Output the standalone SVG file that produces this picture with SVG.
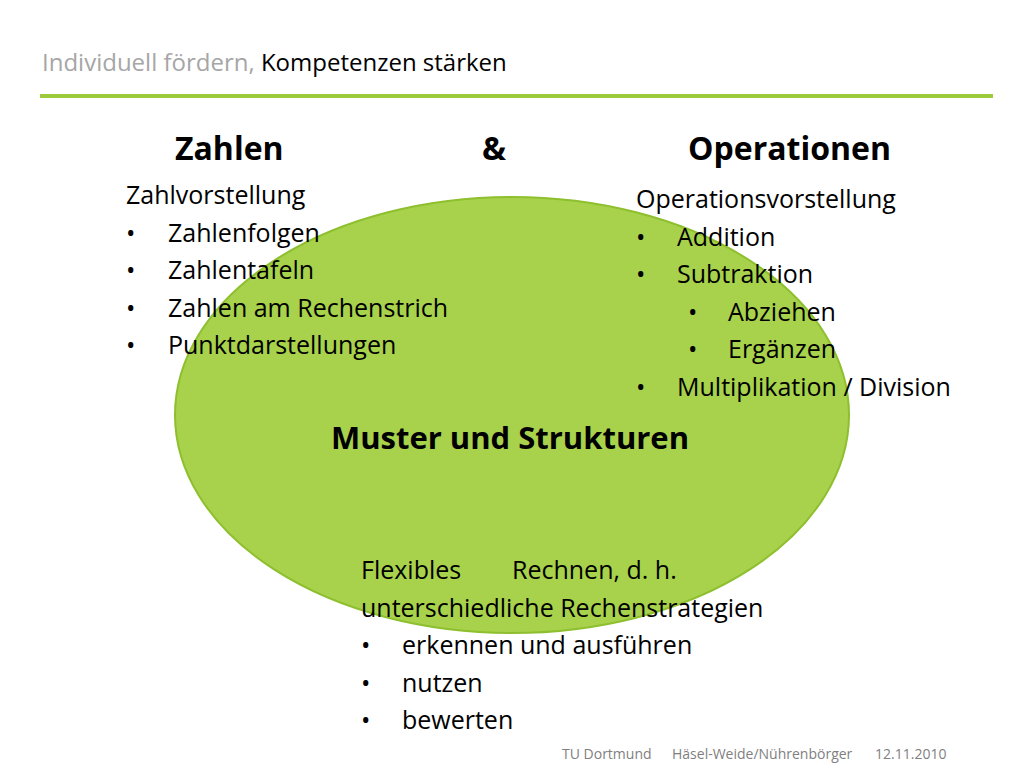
<svg xmlns="http://www.w3.org/2000/svg" width="1024" height="768" viewBox="0 0 1024 768">
<style>
text{font-family:"Open Sans","Liberation Sans",sans-serif;fill:#000}
.b{font-size:25px}
.h{font-size:32px;font-weight:bold}
.f{font-size:14px;fill:#7f7f7f}
</style>
<rect width="1024" height="768" fill="#fff"/>
<text x="42" y="71" font-size="24"><tspan style="fill:#a6a6a6">Individuell fördern, </tspan><tspan>Kompetenzen stärken</tspan></text>
<line x1="40" y1="96" x2="993" y2="96" stroke="#9ccb3b" stroke-width="4"/>
<g id="ellipse"><ellipse cx="512" cy="415" rx="337" ry="218" fill="#a8d24b" stroke="#8dbf2e" stroke-width="2"/>
<text x="510" y="449" text-anchor="middle" font-size="31" font-weight="bold">Muster und Strukturen</text></g>
<g id="heads">
<text class="h" x="175" y="160">Zahlen</text>
<text class="h" x="482" y="160">&amp;</text>
<text class="h" x="688" y="160">Operationen</text>
</g>
<g id="zahlen">
<text class="b" x="126" y="204">Zahlvorstellung</text>
<text class="b" x="126" y="242">•</text><text class="b" x="168" y="242">Zahlenfolgen</text>
<text class="b" x="126" y="279">•</text><text class="b" x="168" y="279">Zahlentafeln</text>
<text class="b" x="126" y="317">•</text><text class="b" x="168" y="317">Zahlen am Rechenstrich</text>
<text class="b" x="126" y="354">•</text><text class="b" x="168" y="354">Punktdarstellungen</text>
</g>
<g id="operationen">
<text class="b" x="636" y="208">Operationsvorstellung</text>
<text class="b" x="636" y="246">•</text><text class="b" x="677" y="246">Addition</text>
<text class="b" x="636" y="283">•</text><text class="b" x="677" y="283">Subtraktion</text>
<text class="b" x="688" y="321">•</text><text class="b" x="728" y="321">Abziehen</text>
<text class="b" x="688" y="358">•</text><text class="b" x="728" y="358">Ergänzen</text>
<text class="b" x="636" y="396">•</text><text class="b" x="677" y="396">Multiplikation / Division</text>
</g>
<g id="flexibel">
<text class="b" x="361" y="579">Flexibles</text><text class="b" x="512" y="579">Rechnen, d. h.</text>
<text class="b" x="361" y="617">unterschiedliche Rechenstrategien</text>
<text class="b" x="361" y="654">•</text><text class="b" x="402" y="654">erkennen  und ausführen</text>
<text class="b" x="361" y="692">•</text><text class="b" x="402" y="692">nutzen</text>
<text class="b" x="361" y="729">•</text><text class="b" x="402" y="729">bewerten</text>
</g>
<text class="f" x="562" y="759">TU Dortmund</text>
<text class="f" x="672" y="759">Häsel-Weide/Nührenbörger</text>
<text class="f" x="875" y="759">12.11.2010</text>
</svg>
